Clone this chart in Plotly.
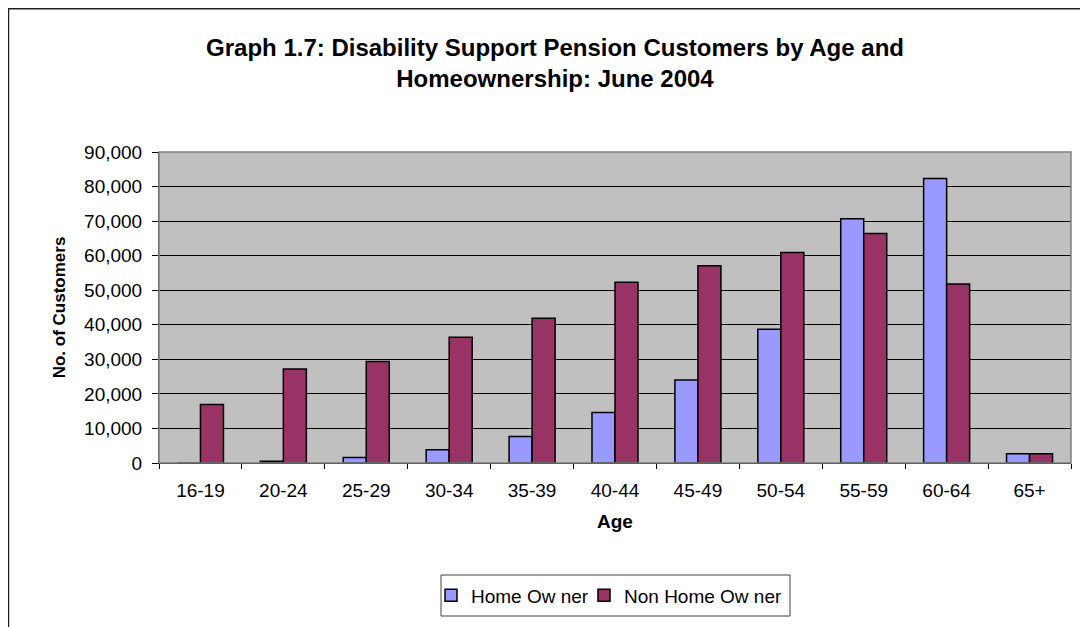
import plotly.graph_objects as go

ages = ["16-19", "20-24", "25-29", "30-34", "35-39", "40-44", "45-49", "50-54", "55-59", "60-64", "65+"]
home_owner = [0, 500, 1600, 3800, 7700, 14600, 24000, 38700, 70700, 82300, 2700]
non_home_owner = [16900, 27200, 29400, 36400, 41900, 52300, 57100, 60900, 66400, 51800, 2700]

# page body has an 8px margin; work in reference-pixel coords and shift by 8
OFF = 8
W, H = 1088 - OFF, 627 - OFF
L, T = 159 - OFF, 152 - OFF
PR, PB = 1071 - OFF, 463 - OFF
R, B = W - PR, H - PB
pw, ph = PR - L, PB - T

def px(x):
    return (x - OFF - L) / pw

def py(y):
    return (PB - (y - OFF)) / ph

fig = go.Figure()
fig.add_trace(go.Bar(name="Home Ow ner", x=ages, y=home_owner, legend="legend",
                     marker=dict(color="#9999FF", line=dict(color="black", width=1.5))))
fig.add_trace(go.Bar(name="Non Home Ow ner", x=ages, y=non_home_owner, legend="legend2",
                     marker=dict(color="#993366", line=dict(color="black", width=1.5))))

font = "Arial, Liberation Sans, sans-serif"
leg_common = dict(orientation="h", xanchor="left", yanchor="middle", y=py(595.5),
                  borderwidth=0, bgcolor="rgba(0,0,0,0)", font=dict(size=19), itemwidth=30)
fig.update_layout(
    width=W, height=H,
    margin=dict(l=L, r=R, t=T, b=B, autoexpand=False),
    paper_bgcolor="white", plot_bgcolor="#C0C0C0",
    barmode="group", bargap=0.445, bargroupgap=0,
    font=dict(family=font, size=19, color="black"),
    title=dict(text="<b>Graph 1.7: Disability Support Pension Customers by Age and<br>Homeownership: June 2004</b>",
               x=(555 - OFF) / W, xanchor="center", y=1 - (56 - OFF) / H, yanchor="middle",
               font=dict(size=24, family=font)),
    xaxis=dict(title=dict(text="<b>Age</b>", font=dict(size=19), standoff=14),
               tickson="boundaries", ticks="outside", ticklen=5, tickcolor="black",
               ticklabelstandoff=10,
               showline=True, linecolor="black", linewidth=1, mirror=False,
               tickfont=dict(size=19)),
    yaxis=dict(title=dict(text="<b>No. of Customers</b>", font=dict(size=17), standoff=14),
               range=[0, 90000], dtick=10000, tickformat=",", ticks="outside", ticklen=6,
               ticklabelstandoff=6,
               tickcolor="black", showline=True, linecolor="#404040", linewidth=1,
               showgrid=True, gridcolor="black", gridwidth=1, zeroline=False,
               tickfont=dict(size=19)),
    legend=dict(x=px(431), **leg_common),
    legend2=dict(x=px(584), **leg_common),
    showlegend=True,
)
# legend frame
fig.add_shape(type="rect", xref="paper", yref="paper",
              x0=px(441), x1=px(790), y0=py(616), y1=py(575),
              line=dict(color="#404040", width=1), layer="below")
# plot area border
fig.add_shape(type="rect", xref="paper", yref="paper", x0=0, x1=1, y0=0, y1=1,
              line=dict(color="#808080", width=1.5), layer="above")
# outer chart border
fig.add_shape(type="rect", xref="paper", yref="paper",
              x0=px(8.5), y0=py(8.75), x1=px(1110), y1=py(650),
              line=dict(color="#202020", width=1.5))

fig.write_html("out.html")
